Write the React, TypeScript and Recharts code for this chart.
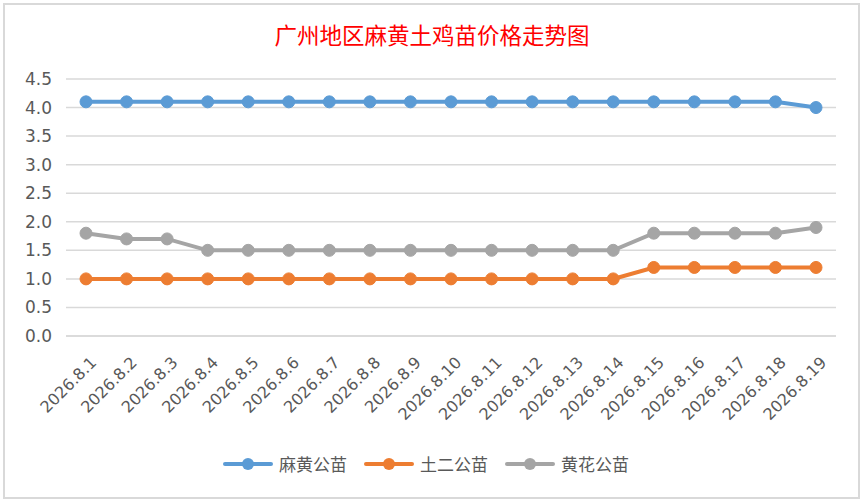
import { LineChart, Line, XAxis, YAxis, CartesianGrid, Legend } from "recharts";

const dates = [
  "2026.8.1", "2026.8.2", "2026.8.3", "2026.8.4", "2026.8.5", "2026.8.6", "2026.8.7",
  "2026.8.8", "2026.8.9", "2026.8.10", "2026.8.11", "2026.8.12", "2026.8.13",
  "2026.8.14", "2026.8.15", "2026.8.16", "2026.8.17", "2026.8.18", "2026.8.19",
];
const mahuang = [4.1, 4.1, 4.1, 4.1, 4.1, 4.1, 4.1, 4.1, 4.1, 4.1, 4.1, 4.1, 4.1, 4.1, 4.1, 4.1, 4.1, 4.1, 4.0];
const tuer = [1.0, 1.0, 1.0, 1.0, 1.0, 1.0, 1.0, 1.0, 1.0, 1.0, 1.0, 1.0, 1.0, 1.0, 1.2, 1.2, 1.2, 1.2, 1.2];
const huanghua = [1.8, 1.7, 1.7, 1.5, 1.5, 1.5, 1.5, 1.5, 1.5, 1.5, 1.5, 1.5, 1.5, 1.5, 1.8, 1.8, 1.8, 1.8, 1.9];
const yTicks = [0, 0.5, 1, 1.5, 2, 2.5, 3, 3.5, 4, 4.5];

const series = [
  { key: "mahuang", name: "麻黄公苗", color: "#5B9BD5" },
  { key: "tuer", name: "土二公苗", color: "#ED7D31" },
  { key: "huanghua", name: "黄花公苗", color: "#A5A5A5" },
];

const data = dates.map((d, i) => ({
  date: d,
  mahuang: mahuang[i],
  tuer: tuer[i],
  huanghua: huanghua[i],
}));

const font = "'DejaVu Sans', sans-serif";
const cjk = "'Noto Sans CJK SC', sans-serif";

function DateTick(props: any) {
  const { x, y, payload } = props;
  const ax = x + 3;
  const ay = y + 11;
  return (
    <text
      x={ax}
      y={ay}
      transform={`rotate(-45, ${ax}, ${ay})`}
      textAnchor="end"
      dominantBaseline="hanging"
      fill="#595959"
      fontSize={16}
      fontFamily={font}
    >
      {payload.value}
    </text>
  );
}

function LegendRow() {
  return (
    <div style={{ display: "flex", justifyContent: "center", alignItems: "center", gap: 17, marginLeft: 16 }}>
      {series.map((s) => (
        <div key={s.key} style={{ display: "flex", alignItems: "center" }}>
          <svg width={50} height={14}>
            <line x1={2} y1={7} x2={48} y2={7} stroke={s.color} strokeWidth={4} strokeLinecap="round" />
            <circle cx={25} cy={7} r={6} fill={s.color} />
          </svg>
          <span style={{ marginLeft: 6, fontSize: 17, color: "#595959", fontFamily: cjk }}>{s.name}</span>
        </div>
      ))}
    </div>
  );
}

export default function App() {
  return (
    <div style={{ position: "absolute", top: 0, left: 0, width: 868, height: 501, background: "#fff" }}>
      <div
        style={{
          position: "absolute",
          left: 3,
          top: 3,
          width: 853,
          height: 492,
          border: "2px solid #d9d9d9",
        }}
      />
      <div
        style={{
          position: "absolute",
          top: 18,
          left: 0,
          width: 864,
          textAlign: "center",
          color: "#FF0000",
          fontSize: 22.5,
          fontFamily: cjk,
        }}
      >
        广州地区麻黄土鸡苗价格走势图
      </div>
      <div style={{ position: "absolute", top: 0, left: 0 }}>
        <LineChart width={868} height={501} data={data} margin={{ top: 79, right: 32, left: 0, bottom: 26 }}>
          <CartesianGrid vertical={false} stroke="#d9d9d9" strokeWidth={1.5} />
          <XAxis
            dataKey="date"
            interval={0}
            padding={{ left: 20, right: 20 }}
            tickLine={false}
            axisLine={{ stroke: "#d9d9d9", strokeWidth: 1.5 }}
            height={115}
            tick={<DateTick />}
          />
          <YAxis
            domain={[0, 4.5]}
            ticks={yTicks}
            width={66}
            axisLine={false}
            tickLine={false}
            tickSize={0}
            tickMargin={14}
            tickFormatter={(v: number) => v.toFixed(1)}
            tick={{ fill: "#595959", fontSize: 17, fontFamily: font }}
          />
          <Legend verticalAlign="bottom" height={24} content={() => <LegendRow />} />
          {series.map((s) => (
            <Line
              key={s.key}
              dataKey={s.key}
              name={s.name}
              stroke={s.color}
              strokeWidth={4}
              dot={{ r: 6, fill: s.color, stroke: s.color, strokeWidth: 1 }}
              activeDot={false}
              isAnimationActive={false}
            />
          ))}
        </LineChart>
      </div>
    </div>
  );
}
